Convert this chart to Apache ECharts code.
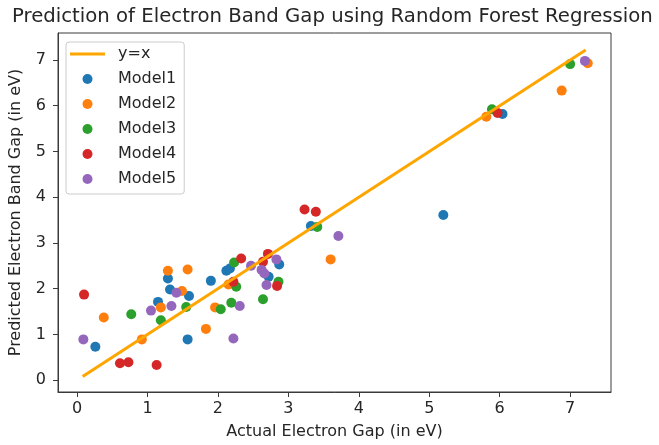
<!DOCTYPE html>
<html>
<head>
<meta charset="utf-8">
<script src="https://cdn.jsdelivr.net/npm/echarts@6/dist/echarts.min.js"></script>
<style>
  html, body { margin: 0; padding: 0; background: #ffffff; }
  #chart { width: 659px; height: 445px; }
</style>
</head>
<body>
<div id="chart"></div>
<script>
// Actual vs predicted band gap (eV) for each model: [actual, predicted]
const model1 = [[0.26, 0.73], [1.15, 1.71], [1.29, 2.22], [1.32, 1.98], [1.59, 1.84], [1.57, 0.89],
  [1.90, 2.17], [2.12, 2.39], [2.17, 2.44], [2.87, 2.53], [2.72, 2.26], [3.32, 3.37], [5.20, 3.61], [6.04, 5.82]];
const model2 = [[0.38, 1.37], [0.92, 0.89], [1.19, 1.59], [1.29, 2.39], [1.49, 1.95], [1.57, 2.42],
  [1.83, 1.12], [1.96, 1.59], [2.15, 2.09], [3.60, 2.64], [5.81, 5.76], [6.88, 6.33], [7.25, 6.93]];
const model3 = [[0.77, 1.44], [1.19, 1.31], [1.55, 1.60], [2.04, 1.55], [2.23, 2.57], [2.26, 2.04],
  [2.19, 1.69], [2.86, 2.15], [2.64, 1.77], [3.41, 3.35], [5.89, 5.92], [7.00, 6.91]];
const model4 = [[0.10, 1.87], [0.61, 0.37], [0.73, 0.39], [1.13, 0.33], [2.33, 2.66], [2.22, 2.15],
  [2.71, 2.76], [2.64, 2.59], [2.84, 2.06], [3.23, 3.73], [3.39, 3.68], [5.97, 5.84]];
const model5 = [[0.09, 0.89], [1.05, 1.52], [1.41, 1.91], [1.34, 1.62], [2.31, 1.62], [2.22, 0.91],
  [2.47, 2.50], [2.62, 2.41], [2.66, 2.33], [2.83, 2.64], [2.69, 2.08], [3.71, 3.15], [7.21, 6.98]];

// Reference line y = x across the range of actual values
const identityX = [0.08, 7.22];

const seriesNames = ['Model1', 'Model2', 'Model3', 'Model4', 'Model5'];
const xTicks = [0, 1, 2, 3, 4, 5, 6, 7];
const yTicks = [0, 1, 2, 3, 4, 5, 6, 7];

const palette = ['#1f77b4', '#ff7f0e', '#2ca02c', '#d62728', '#9467bd'];
const font = 'DejaVu Sans';
const ink = '#262626';
const frame = '#3a3a3a';

const modelData = [model1, model2, model3, model4, model5];

const chart = echarts.init(document.getElementById('chart'), null, { renderer: 'canvas' });

const scatterSeries = modelData.map((pts, i) => ({
  name: seriesNames[i],
  type: 'scatter',
  data: pts,
  symbol: 'circle',
  symbolSize: 10,
  itemStyle: { color: palette[i], opacity: 1 },
  z: 2 + i * 0.01,
  silent: true
}));

const axisCommon = {
  type: 'value',
  axisLine: { show: true, onZero: false, lineStyle: { color: frame, width: 1 } },
  splitLine: { show: false },
  axisLabel: { color: ink, fontFamily: font, fontSize: 16 },
  axisTick: { show: true, inside: false, length: 5, lineStyle: { color: frame, width: 1 } },
  nameLocation: 'middle',
  nameTextStyle: { color: ink, fontFamily: font, fontSize: 16 }
};

chart.setOption({
  animation: false,
  backgroundColor: '#ffffff',
  title: {
    text: 'Prediction of Electron Band Gap using Random Forest Regression',
    left: 12,
    top: 7,
    padding: 0,
    textStyle: { color: ink, fontFamily: font, fontSize: 19.7, fontWeight: 'normal' }
  },
  grid: {
    left: 57, right: 48, top: 33, bottom: 53,
    show: true, borderColor: frame, borderWidth: 1, backgroundColor: '#ffffff'
  },
  legend: {
    orient: 'vertical',
    left: 66,
    top: 42,
    padding: [3, 8, 6, 4],
    itemWidth: 35,
    itemHeight: 10,
    itemGap: 7,
    borderColor: '#cccccc',
    borderWidth: 1,
    borderRadius: 3,
    backgroundColor: 'rgba(255,255,255,0.85)',
    textStyle: { color: ink, fontFamily: font, fontSize: 16, lineHeight: 18, padding: [0, 0, 0, 8] },
    data: [
      { name: 'y=x', icon: 'path://M0,0 L35,0 L35,3 L0,3 Z' },
      ...seriesNames.map(n => ({ name: n, icon: 'circle' }))
    ]
  },
  xAxis: Object.assign({}, axisCommon, {
    min: -0.27,
    max: 7.58,
    name: 'Actual Electron Gap (in eV)',
    nameGap: 32,
    axisLabel: Object.assign({}, axisCommon.axisLabel, {
      margin: 9,
      customValues: xTicks,
      formatter: v => String(v)
    }),
    axisTick: Object.assign({}, axisCommon.axisTick, { customValues: xTicks })
  }),
  yAxis: Object.assign({}, axisCommon, {
    min: -0.26,
    max: 7.59,
    name: 'Predicted Electron Band Gap (in eV)',
    nameGap: 34,
    axisLabel: Object.assign({}, axisCommon.axisLabel, {
      margin: 12,
      customValues: yTicks,
      formatter: v => String(v)
    }),
    axisTick: Object.assign({}, axisCommon.axisTick, { customValues: yTicks })
  }),
  series: [
    ...scatterSeries,
    {
      name: 'y=x',
      type: 'line',
      data: identityX.map(v => [v, v]),
      symbol: 'none',
      showSymbol: false,
      lineStyle: { color: '#ffa500', width: 3 },
      itemStyle: { color: '#ffa500' },
      z: 5,
      silent: true
    }
  ]
});
</script>
</body>
</html>
